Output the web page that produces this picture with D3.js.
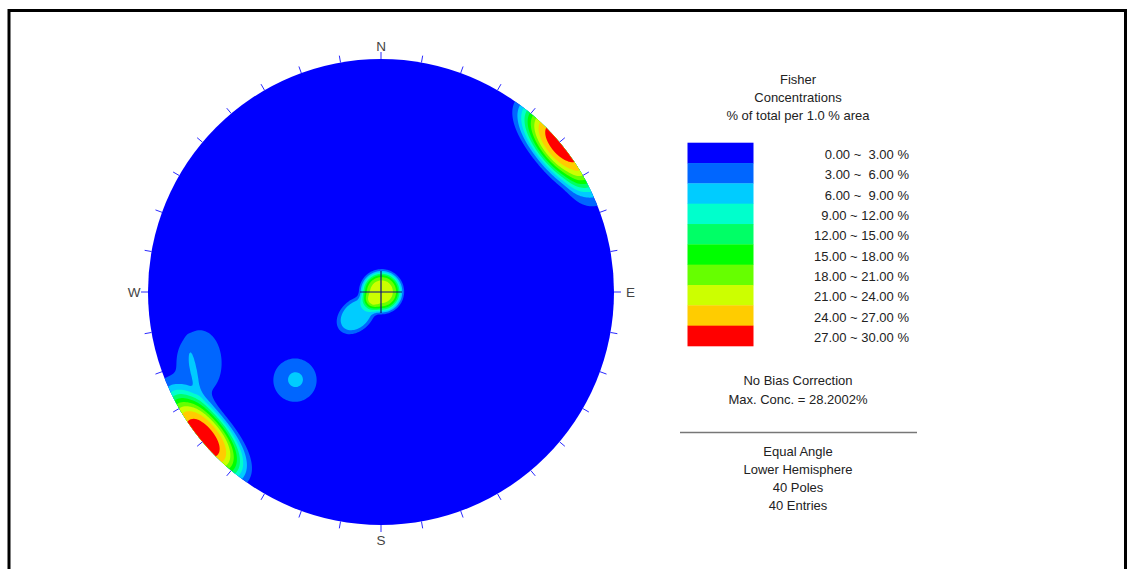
<!DOCTYPE html>
<html>
<head>
<meta charset="utf-8">
<style>
  body { margin: 0; background: #fff; }
  svg text { font-family: "Liberation Sans", Arial, sans-serif; fill: #222; }
</style>
</head>
<body>
<div id="graphic"></div>
<script src="https://d3js.org/d3.v7.min.js"></script>
<script>
// concentration bands, % of total per 1 % area
var bandLows   = [0, 3, 6, 9, 12, 15, 18, 21, 24, 27];
var bandHighs  = [3, 6, 9, 12, 15, 18, 21, 24, 27, 30];
var bandColors = ["#0000ff", "#0066ff", "#00ccff", "#00ffcc", "#00ff66",
                  "#00ff00", "#66ff00", "#ccff00", "#ffcc00", "#ff0000"];

// concentration centres (trend / plunge in degrees, peak in %)
var clusterTrend        = [230.5, 64.0, 249.0, 247.5, 224.3, 63.0, 227.0];
var clusterPlunge       = [0.5,   1.5,  10.5,  7.8,   34.6,  89.7, 73.5];
var clusterPeak         = [28.5,  2.5,  4.6,   2.2,   6.15,  22.3, 8.6];
var clusterStrikeSpread = [8.6,   4.0,  8.5,   5.2,   6.5,   6.8,  5.2];
var clusterDipSpread    = [4.8,   3.0,  6.0,   0.9,   6.5,   6.8,  7.4];
var clusterRotation     = [0,     0,    20,    10,    0,     0,    0];
var clusterShape        = [1.8,   1.6,  1.6,   1.6,   1.6,   2.6,  2.4];

var compass    = ["N", "E", "S", "W"];
var titleLines = ["Fisher", "Concentrations", "% of total per 1.0 % area"];
var biasLines  = ["No Bias Correction", "Max. Conc. = 28.2002%"];
var netLines   = ["Equal Angle", "Lower Hemisphere", "40 Poles", "40 Entries"];

var width = 1127, height = 569;
var R = 233, cx = 381, cy = 292;
var rad = Math.PI / 180;

var svg = d3.select("#graphic").append("svg")
    .attr("width", width)
    .attr("height", height);

// frame
svg.append("rect")
    .attr("x", 9).attr("y", 10.5)
    .attr("width", 1116.5).attr("height", 600)
    .attr("fill", "none")
    .attr("stroke", "#000")
    .attr("stroke-width", 3);

function toVector(trend, plunge) {
    var t = trend * rad, p = plunge * rad;
    return [Math.cos(p) * Math.sin(t), Math.cos(p) * Math.cos(t), Math.sin(p)];
}

var clusters = clusterTrend.map(function (t, i) {
    var tr = t * rad, pl = clusterPlunge[i] * rad, rot = clusterRotation[i] * rad;
    return {
        c: toVector(t, clusterPlunge[i]),
        eh: [Math.cos(tr), -Math.sin(tr), 0],
        eu: [-Math.sin(pl) * Math.sin(tr), -Math.sin(pl) * Math.cos(tr), Math.cos(pl)],
        peak: clusterPeak[i],
        sa: clusterStrikeSpread[i] * rad,
        sb: clusterDipSpread[i] * rad,
        m: clusterShape[i],
        cr: Math.cos(rot), sr: Math.sin(rot)
    };
});

// axial density at a unit vector (east, north, down)
function density(v) {
    var sum = 0;
    clusters.forEach(function (k) {
        var dot = v[0] * k.c[0] + v[1] * k.c[1] + v[2] * k.c[2];
        var s = dot < 0 ? -1 : 1;
        var a = s * (v[0] * k.eh[0] + v[1] * k.eh[1] + v[2] * k.eh[2]);
        var b = s * (v[0] * k.eu[0] + v[1] * k.eu[1] + v[2] * k.eu[2]);
        var a2 = (a * k.cr + b * k.sr) / k.sa;
        var b2 = (-a * k.sr + b * k.cr) / k.sb;
        var d2 = (a2 * a2 + b2 * b2) / 2;
        sum += k.peak * Math.exp(-Math.pow(d2, k.m));
    });
    return sum;
}

// sample the net on a grid (equal angle, lower hemisphere)
var step = 1.5;
var x0 = cx - R - 3, y0 = cy - R - 3;
var nx = Math.ceil((2 * R + 6) / step), ny = nx;
var values = new Array(nx * ny);
for (var j = 0; j < ny; j++) {
    for (var i = 0; i < nx; i++) {
        var sx = x0 + (i + 0.5) * step, sy = y0 + (j + 0.5) * step;
        var dx = sx - cx, dn = cy - sy, rr = Math.sqrt(dx * dx + dn * dn);
        var rho = Math.min(rr / R, 1);
        var phi = 2 * Math.atan(rho);
        var h = Math.sin(phi);
        var v = rr > 0 ? [h * dx / rr, h * dn / rr, Math.cos(phi)] : [0, 0, 1];
        values[j * nx + i] = density(v);
    }
}

var color = d3.scaleThreshold()
    .domain(bandLows.slice(1))
    .range(bandColors);

var contours = d3.contours()
    .size([nx, ny])
    .thresholds(bandLows.slice(1))(values);

var path = d3.geoPath(d3.geoIdentity().scale(step).translate([x0, y0]));

svg.append("clipPath").attr("id", "net-clip")
    .append("circle").attr("cx", cx).attr("cy", cy).attr("r", R);

svg.append("circle")
    .attr("cx", cx).attr("cy", cy).attr("r", R)
    .attr("fill", bandColors[0]);

svg.append("g")
    .attr("clip-path", "url(#net-clip)")
    .selectAll("path")
    .data(contours)
    .join("path")
    .attr("d", path)
    .attr("fill", function (d) { return color(d.value); });

// centre cross
svg.append("path")
    .attr("d", "M" + (cx - 21) + "," + cy + "H" + (cx + 21) + "M" + cx + "," + (cy - 21) + "V" + (cy + 21))
    .attr("stroke", "#10107a")
    .attr("stroke-width", 1.2)
    .attr("fill", "none");

// 10 degree ticks round the primitive
svg.append("g").selectAll("line")
    .data(d3.range(0, 360, 10))
    .join("line")
    .attr("x1", function (d) { return cx + R * Math.sin(d * rad); })
    .attr("y1", function (d) { return cy - R * Math.cos(d * rad); })
    .attr("x2", function (d) { return cx + (R + 7) * Math.sin(d * rad); })
    .attr("y2", function (d) { return cy - (R + 7) * Math.cos(d * rad); })
    .attr("stroke", "#2a2aff")
    .attr("stroke-width", 1);

var compassPos = {
    N: [cx, 51, "middle"],
    E: [626, 297, "start"],
    S: [cx, 545, "middle"],
    W: [140.5, 297, "end"]
};
svg.append("g").selectAll("text")
    .data(compass)
    .join("text")
    .attr("x", function (d) { return compassPos[d][0]; })
    .attr("y", function (d) { return compassPos[d][1]; })
    .attr("text-anchor", function (d) { return compassPos[d][2]; })
    .style("font-size", "13.5px")
    .style("fill", "#444")
    .text(function (d) { return d; });

// legend
var lx = 798;
svg.append("g").selectAll("text")
    .data(titleLines)
    .join("text")
    .attr("x", lx)
    .attr("y", function (d, i) { return 84 + i * 18; })
    .attr("text-anchor", "middle")
    .style("font-size", "13px")
    .text(function (d) { return d; });

var band = d3.scaleBand()
    .domain(d3.range(bandLows.length))
    .range([142.7, 346]);

svg.append("g").selectAll("rect")
    .data(bandColors)
    .join("rect")
    .attr("x", 687.5)
    .attr("y", function (d, i) { return band(i); })
    .attr("width", 66)
    .attr("height", band.bandwidth() + 0.3)
    .attr("fill", function (d) { return d; });

var fmt = d3.format(".2f");
function pad(s) { return s.length < 5 ? " " + s : s; }

svg.append("g").selectAll("text")
    .data(bandLows)
    .join("text")
    .attr("x", 909)
    .attr("y", function (d, i) { return band(i) + band.bandwidth() / 2 + 1.5 + 4.7; })
    .attr("text-anchor", "end")
    .style("font-size", "13px")
    .style("white-space", "pre")
    .text(function (d, i) { return fmt(d) + " ~ " + pad(fmt(bandHighs[i])) + " %"; });

svg.append("g").selectAll("text")
    .data(biasLines)
    .join("text")
    .attr("x", lx)
    .attr("y", function (d, i) { return 384.7 + i * 19; })
    .attr("text-anchor", "middle")
    .style("font-size", "13px")
    .text(function (d) { return d; });

svg.append("line")
    .attr("x1", 680).attr("x2", 917)
    .attr("y1", 432.5).attr("y2", 432.5)
    .attr("stroke", "#777")
    .attr("stroke-width", 1.3);

svg.append("g").selectAll("text")
    .data(netLines)
    .join("text")
    .attr("x", lx)
    .attr("y", function (d, i) { return 455.7 + i * 18; })
    .attr("text-anchor", "middle")
    .style("font-size", "13px")
    .text(function (d) { return d; });
</script>
</body>
</html>
